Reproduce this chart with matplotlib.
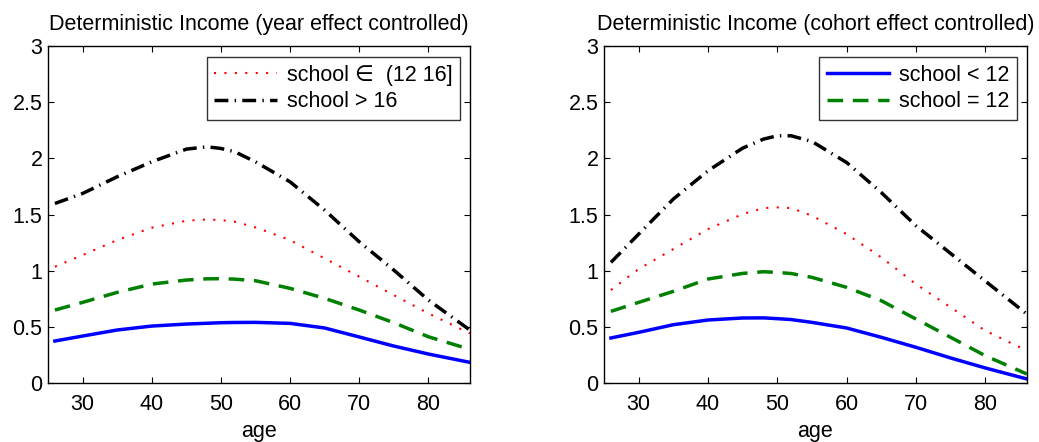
import matplotlib
matplotlib.use("Agg")
import matplotlib.pyplot as plt

plt.rcParams['font.family'] = ['Liberation Sans', 'DejaVu Sans']

age = [26, 30, 35, 40, 45, 48, 50, 52, 55, 60, 65, 70, 75, 80, 86]

# year effect controlled
yr_lt12 = [0.374, 0.418, 0.472, 0.507, 0.525, 0.532, 0.537, 0.539, 0.540, 0.531, 0.490, 0.410, 0.329, 0.258, 0.184]
yr_eq12 = [0.650, 0.718, 0.807, 0.881, 0.917, 0.928, 0.929, 0.925, 0.911, 0.843, 0.754, 0.650, 0.537, 0.412, 0.300]
yr_1216 = [1.036, 1.139, 1.273, 1.383, 1.445, 1.457, 1.451, 1.437, 1.386, 1.273, 1.110, 0.947, 0.783, 0.620, 0.442]
yr_gt16 = [1.599, 1.688, 1.837, 1.970, 2.083, 2.104, 2.089, 2.060, 1.970, 1.792, 1.540, 1.258, 1.006, 0.739, 0.472]

# cohort effect controlled
co_lt12 = [0.401, 0.451, 0.519, 0.561, 0.579, 0.580, 0.573, 0.565, 0.540, 0.490, 0.407, 0.318, 0.223, 0.134, 0.036]
co_eq12 = [0.638, 0.718, 0.816, 0.926, 0.976, 0.991, 0.985, 0.975, 0.941, 0.852, 0.733, 0.570, 0.407, 0.243, 0.080]
co_1216 = [0.828, 1.015, 1.193, 1.371, 1.504, 1.558, 1.564, 1.558, 1.490, 1.326, 1.119, 0.881, 0.674, 0.466, 0.288]
co_gt16 = [1.074, 1.326, 1.638, 1.890, 2.092, 2.172, 2.202, 2.202, 2.151, 1.964, 1.697, 1.401, 1.154, 0.908, 0.614]

labels = ['school < 12', 'school = 12', 'school \u2208  (12 16]', 'school > 16']
titles = ['Deterministic Income (year effect controlled)',
          'Deterministic Income (cohort effect controlled)']

styles = [dict(color='blue', linestyle='-', linewidth=2.5),
          dict(color='green', linestyle=(0, (4.5, 2.8)), linewidth=2.5),
          dict(color='red', linestyle=(0, (1, 4)), linewidth=1.5),
          dict(color='black', linestyle=(0, (4, 1.8, 0.4, 1.8)), linewidth=2.5)]

fig = plt.figure(figsize=(10.39, 4.42), dpi=100)
ax1 = fig.add_axes([0.0462, 0.1335, 0.406, 0.762])
ax2 = fig.add_axes([0.5813, 0.1335, 0.407, 0.762])

panels = [(ax1, [yr_lt12, yr_eq12, yr_1216, yr_gt16], [2, 3]),
          (ax2, [co_lt12, co_eq12, co_1216, co_gt16], [0, 1])]

for (ax, series, leg_idx), title in zip(panels, titles):
    lines = []
    for s, lab, st in zip(series, labels, styles):
        ln, = ax.plot(age, s, label=lab, **st)
        lines.append(ln)
    ax.set_xlim(25, 86)
    ax.set_ylim(0, 3)
    ax.set_xticks([30, 40, 50, 60, 70, 80])
    ax.set_yticks([0, 0.5, 1, 1.5, 2, 2.5, 3])
    ax.set_yticklabels(['0', '0.5', '1', '1.5', '2', '2.5', '3'])
    ax.tick_params(direction='in', top=True, right=True, length=4, labelsize=15.5)
    ax.tick_params(axis='x', pad=8)
    ax.tick_params(axis='y', pad=4)
    ax.set_xlabel('age', fontsize=15.5, labelpad=4)
    ax.set_title(title, fontsize=15.5, pad=12)
    leg = ax.legend([lines[i] for i in leg_idx], [labels[i] for i in leg_idx],
                    loc='upper right', fontsize=15.5, frameon=True, fancybox=False,
                    edgecolor='black', handlelength=2.9, borderpad=0.35,
                    labelspacing=0.25, handletextpad=0.45, borderaxespad=0,
                    bbox_to_anchor=(0.976, 0.967))
    leg.get_frame().set_linewidth(1.0)
    for sp in ax.spines.values():
        sp.set_linewidth(1.0)

plt.savefig('out.png', dpi=100)
